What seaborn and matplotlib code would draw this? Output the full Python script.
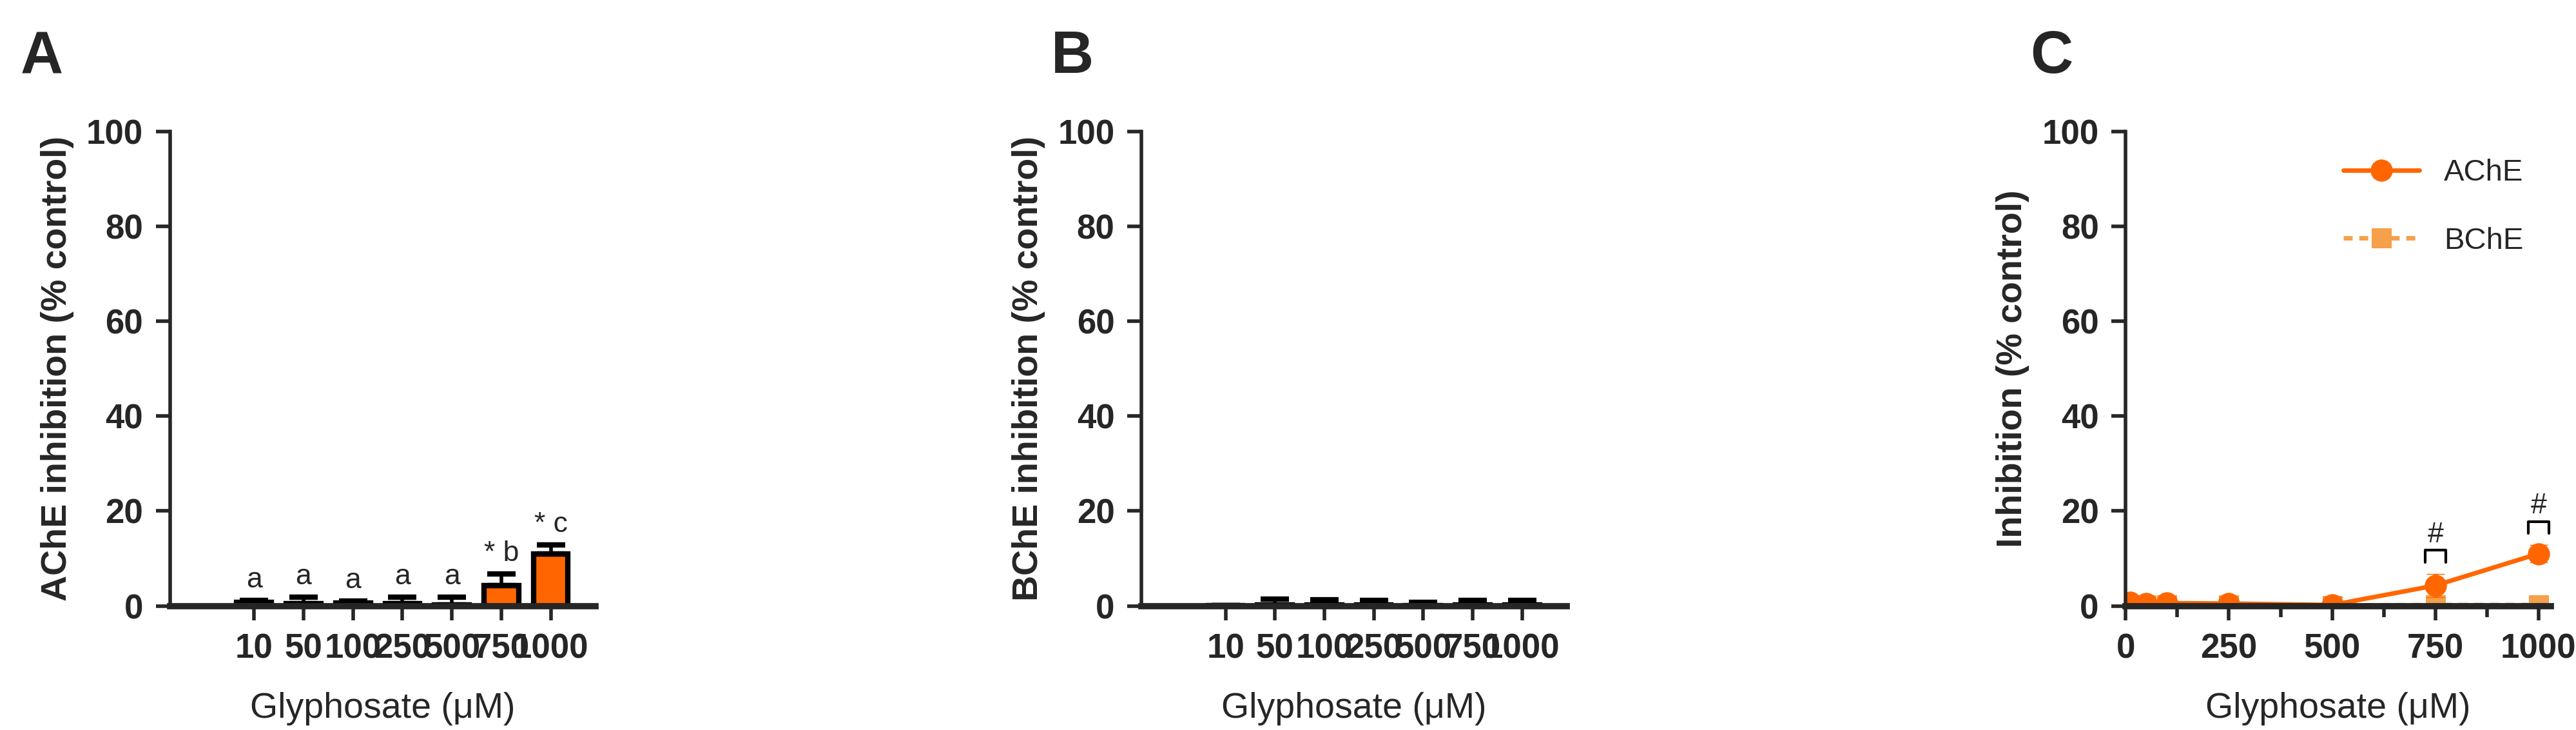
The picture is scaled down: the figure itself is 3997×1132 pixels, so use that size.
import matplotlib
matplotlib.use("Agg")
import matplotlib.pyplot as plt
import seaborn as sns
import numpy as np
import pandas as pd

sns.set_style("ticks")
plt.rcParams['font.family'] = ['Liberation Sans', 'DejaVu Sans']

conc_labels = ["10", "50", "100", "250", "500", "750", "1000"]
conc = [10, 50, 100, 250, 500, 750, 1000]
ache_mean = [0.8, 0.5, 0.6, 0.5, 0.2, 4.3, 11.0]
ache_err = [0.4, 1.3, 0.4, 1.3, 1.6, 2.4, 1.8]
bche_mean = [0.1, 0.2, 0.2, 0.2, 0.1, 0.2, 0.2]
bche_err = [0.0, 1.2, 1.1, 0.9, 0.6, 0.9, 0.9]
sig_labels = ["a", "a", "a", "a", "a", "* b", "* c"]

ORANGE = "#FF6600"
LIGHT = "#F5A04A"

fig = plt.figure(figsize=(39.98, 11.32), dpi=100)
axA = fig.add_axes([0.066, 0.17, 0.165, 0.65])
axB = fig.add_axes([0.443, 0.17, 0.165, 0.65])
axC = fig.add_axes([0.825, 0.17, 0.165, 0.65])

def style(ax, ylabel):
    ax.set_ylim(0, 100)
    ax.set_yticks([0, 20, 40, 60, 80, 100])
    ax.set_ylabel(ylabel, fontsize=40, fontweight="bold", labelpad=14)
    ax.set_xlabel("Glyphosate (\u03bcM)", fontsize=40, labelpad=30)
    for s in ["top", "right"]:
        ax.spines[s].set_visible(False)
    ax.spines["left"].set_linewidth(4)
    ax.spines["bottom"].set_linewidth(7)
    ax.tick_params(axis="both", width=4, length=16, labelsize=38, pad=14)
    for t in ax.get_xticklabels() + ax.get_yticklabels():
        t.set_fontweight("bold")

dfA = pd.DataFrame({"conc": conc_labels, "val": ache_mean})
sns.barplot(data=dfA, x="conc", y="val", ax=axA, color=ORANGE, width=0.7, saturation=1,
            edgecolor="black", linewidth=6, errorbar=None)
axA.errorbar(range(7), ache_mean, yerr=[np.zeros(7), ache_err], fmt="none",
             ecolor="black", elinewidth=4, capsize=16, capthick=6)
for i, (m, e, s) in enumerate(zip(ache_mean, ache_err, sig_labels)):
    axA.text(i, m + e + 1.5, s, ha="center", va="bottom", fontsize=32)
axA.set_xlim(-1.7, 6.9)
style(axA, "AChE inhibition (% control)")

dfB = pd.DataFrame({"conc": conc_labels, "val": bche_mean})
sns.barplot(data=dfB, x="conc", y="val", ax=axB, color=ORANGE, width=0.7, saturation=1,
            edgecolor="black", linewidth=6, errorbar=None)
axB.errorbar(range(7), bche_mean, yerr=[np.zeros(7), bche_err], fmt="none",
             ecolor="black", elinewidth=4, capsize=16, capthick=6)
axB.set_xlim(-1.7, 6.9)
style(axB, "BChE inhibition (% control)")

dfC = pd.DataFrame({"conc": conc * 2, "val": ache_mean + bche_mean,
                    "err": ache_err + bche_err,
                    "enzyme": ["AChE"] * 7 + ["BChE"] * 7})
sns.lineplot(data=dfC[dfC.enzyme == "BChE"], x="conc", y="val", ax=axC, color=LIGHT,
             marker="s", markersize=22, linewidth=5, linestyle=(0, (2, 1.5)),
             label="BChE", markeredgecolor=LIGHT)
sns.lineplot(data=dfC[dfC.enzyme == "AChE"], x="conc", y="val", ax=axC, color=ORANGE,
             marker="o", markersize=24, linewidth=5, label="AChE", markeredgecolor=ORANGE)
axC.errorbar(conc, ache_mean, yerr=ache_err, fmt="none", ecolor=ORANGE, elinewidth=5, capsize=10)
for x, m, e in [(750, 4.3, 2.4), (1000, 11.0, 1.8)]:
    y0 = m + e + 2.5
    axC.plot([x - 25, x - 25, x + 25, x + 25], [y0, y0 + 2.5, y0 + 2.5, y0], color="black", lw=3)
    axC.text(x, y0 + 3, "#", ha="center", va="bottom", fontsize=32)
axC.set_xlim(0, 1030)
axC.set_xticks([0, 250, 500, 750, 1000])
axC.set_xticks([125, 375, 625, 875], minor=True)
axC.tick_params(axis="x", which="minor", width=4, length=12)
style(axC, "Inhibition (% control)")
h, l = axC.get_legend_handles_labels()
axC.legend([h[1], h[0]], [l[1], l[0]], loc="upper right", frameon=False, fontsize=34,
           handlelength=2.5, labelspacing=1.3, bbox_to_anchor=(1.0, 1.0))

for x, lab in [(0.008, "A"), (0.408, "B"), (0.788, "C")]:
    fig.text(x, 0.9, lab, fontsize=66, fontweight="bold")

fig.savefig("out.png", dpi=100)
